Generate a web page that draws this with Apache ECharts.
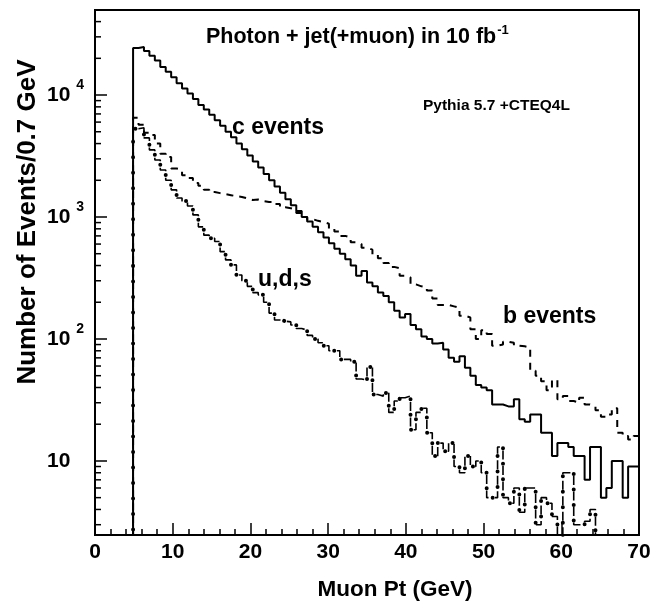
<!DOCTYPE html>
<html>
<head>
<meta charset="utf-8">
<script src="https://cdn.jsdelivr.net/npm/echarts@6/dist/echarts.min.js"></script>
<style>
html, body { margin: 0; padding: 0; background: #fff; }
#chart { width: 654px; height: 601px; }
</style>
</head>
<body>
<div id="chart"></div>
<script>
// histogram bins of 0.7 GeV, first filled bin starts at 4.9 GeV
var binWidth = 0.7;
var firstBin = 7;
var xMax = 70;

var cEvents = [
    24300, 24800, 23000, 21000, 19200, 17000, 15500, 14000, 12500, 11300,
    10300, 9300, 8300, 7600, 6900, 6200, 5600, 5000, 4500, 4000,
    3600, 3200, 2850, 2550, 2250, 2000, 1780, 1580, 1400, 1250,
    1120, 1000, 920, 830, 750, 680, 610, 550, 500, 450,
    400, 330, 360, 290, 270, 240, 225, 200, 170, 150,
    160, 130, 120, 105, 100, 92, 93, 82, 70, 65,
    72, 58, 50, 42, 40, 38, 29, 29, 28, 28,
    32, 22, 21, 24, 24, 17, 17, 11, 14, 14,
    13, 11, 11, 7, 13, 13, 5, 6, 10, 10,
    5, 9, 9
];

var bEvents = [
    6500, 5700, 4900, 4700, 4000, 3300, 3100, 2500, 2430, 2200,
    2090, 1900, 1800, 1670, 1600, 1570, 1540, 1510, 1480, 1460,
    1420, 1380, 1390, 1350, 1330, 1330, 1280, 1200, 1180, 1150,
    1080, 1000, 960, 930, 910, 880, 800, 760, 700, 680,
    620, 600, 560, 540, 490, 460, 420, 390, 380, 330,
    320, 280, 270, 265, 250, 215, 190, 190, 185, 180,
    155, 150, 120, 100, 118, 110, 88, 90, 95, 93,
    88, 87, 85, 55, 50, 45, 38, 46, 32, 34,
    31, 30, 33, 29, 28, 26, 23, 24, 27, 17,
    16, 15, 16
];

var udsEvents = [
    5300, 5400, 4450, 3550, 2930, 2430, 2000, 1670, 1430, 1350,
    1230, 1040, 830, 710, 670, 630, 520, 445, 405, 335,
    300, 270, 240, 230, 200, 163, 143, 140, 138, 130,
    122, 118, 107, 100, 93, 88, 80, 80, 68, 68,
    65, 47, 46, 59, 35, 34, 36, 25, 31, 33,
    34, 18, 25, 27, 17, 11, 14, 12, 14, 9,
    8, 11, 9, 10, 8, 5, 5, 13, 5, 4.5,
    6, 3.8, 6, 6, 3, 5, 4.5, 3.5, 0, 8,
    8, 3, 3, 3.2, 4, 0, 0, 0, 0, 0,
    0, 0, 0
];

var yMinorTicks = [
    3, 4, 5, 6, 7, 8, 9,
    20, 30, 40, 50, 60, 70, 80, 90,
    200, 300, 400, 500, 600, 700, 800, 900,
    2000, 3000, 4000, 5000, 6000, 7000, 8000, 9000,
    20000, 30000, 40000
];

var yMin = 2.47;
var yMax = 49800;
var emptyBin = 1; // drawn below the axis, clipped away

var font = 'Liberation Sans, Arial, Helvetica, sans-serif';

function toSteps(values) {
    var pts = [[(firstBin - 1) * binWidth, emptyBin]];
    values.forEach(function (v, i) {
        pts.push([(firstBin + i) * binWidth, v > 0 ? v : emptyBin]);
    });
    var last = values[values.length - 1];
    pts.push([xMax, last > 0 ? last : emptyBin]);
    return pts;
}

var myChart = echarts.init(document.getElementById('chart'));

option = {
    backgroundColor: '#fff',
    animation: false,
    title: {
        text: '{t|Photon + jet(+muon) in 10 fb}{s|-1}',
        left: 206,
        top: 24,
        padding: 0,
        textStyle: {
            rich: {
                t: { fontFamily: font, fontSize: 21.5, fontWeight: 'bold', color: '#000' },
                s: { fontFamily: font, fontSize: 13, fontWeight: 'bold', color: '#000', padding: [0, 0, 14, 1] }
            }
        }
    },
    grid: {
        left: 95,
        right: 15,
        top: 10,
        bottom: 66,
        show: true,
        borderColor: '#000',
        borderWidth: 2
    },
    xAxis: {
        type: 'value',
        min: 0,
        max: xMax,
        interval: 10,
        axisLine: { show: true, lineStyle: { color: '#000', width: 2 } },
        axisTick: { show: true, inside: true, length: 12, lineStyle: { color: '#000', width: 1.5 } },
        minorTick: { show: true, splitNumber: 5, length: 6, lineStyle: { color: '#000', width: 1.5 } },
        splitLine: { show: false },
        axisLabel: {
            margin: 7,
            color: '#000',
            fontFamily: font,
            fontSize: 21,
            fontWeight: 'bold',
            lineHeight: 21
        }
    },
    yAxis: {
        type: 'log',
        min: yMin,
        max: yMax,
        axisLine: { show: true, lineStyle: { color: '#000', width: 2 } },
        axisTick: { show: true, inside: true, length: 12, lineStyle: { color: '#000', width: 1.5 } },
        splitLine: { show: false },
        axisLabel: {
            align: 'left',
            margin: 48,
            color: '#000',
            formatter: function (v) {
                var l = Math.log10(v);
                var e = Math.round(l);
                if (Math.abs(l - e) > 1e-6 || e < 1) return '';
                if (e === 1) return '{b|10}';
                return '{b|10}{s|' + e + '}';
            },
            rich: {
                b: { fontFamily: font, fontSize: 21, fontWeight: 'bold', color: '#000' },
                s: { fontFamily: font, fontSize: 14, fontWeight: 'bold', color: '#000', padding: [0, 0, 20, 6] }
            }
        }
    },
    graphic: [
        { type: 'text', x: 395, y: 590, style: { text: 'Muon Pt (GeV)', font: 'bold 22.5px ' + font, fill: '#000', textAlign: 'center', textVerticalAlign: 'middle' } },
        { type: 'text', x: 28, y: 222, rotation: Math.PI / 2, style: { text: 'Number of Events/0.7 GeV', font: 'bold 26px ' + font, fill: '#000', textAlign: 'center', textVerticalAlign: 'middle' } },
        { type: 'text', x: 232, y: 128, style: { text: 'c events', font: 'bold 23px ' + font, fill: '#000', textVerticalAlign: 'middle' } },
        { type: 'text', x: 258, y: 280, style: { text: 'u,d,s', font: 'bold 23px ' + font, fill: '#000', textVerticalAlign: 'middle' } },
        { type: 'text', x: 503, y: 317, style: { text: 'b events', font: 'bold 23px ' + font, fill: '#000', textVerticalAlign: 'middle' } },
        { type: 'text', x: 423, y: 106, style: { text: 'Pythia 5.7 +CTEQ4L', font: 'bold 15.5px ' + font, fill: '#000', textVerticalAlign: 'middle' } }
    ],
    series: [
        {
            name: 'c events',
            type: 'line',
            step: 'end',
            showSymbol: false,
            data: toSteps(cEvents),
            lineStyle: { color: '#000', width: 2 }
        },
        {
            name: 'b events',
            type: 'line',
            step: 'end',
            showSymbol: false,
            data: toSteps(bEvents),
            lineStyle: { color: '#000', width: 2, type: [7, 6] }
        },
        {
            name: 'u,d,s',
            type: 'line',
            step: 'end',
            showSymbol: false,
            data: toSteps(udsEvents),
            lineStyle: { color: '#000', width: 1.6, type: [9, 6.5] }
        },
        {
            name: 'u,d,s dots',
            type: 'line',
            step: 'end',
            showSymbol: false,
            data: toSteps(udsEvents),
            lineStyle: { color: '#000', width: 4, type: [0.01, 15.5], cap: 'round', dashOffset: 3.25 }
        },
        {
            name: 'y minor ticks',
            type: 'custom',
            z: 10,
            data: yMinorTicks.map(function (v) { return [0, v]; }),
            renderItem: function (params, api) {
                var p = api.coord([0, api.value(1)]);
                return {
                    type: 'line',
                    shape: { x1: p[0], y1: p[1], x2: p[0] + 6, y2: p[1] },
                    style: { stroke: '#000', lineWidth: 1.5 }
                };
            }
        }
    ]
};
myChart.setOption(option);
</script>
</body>
</html>
